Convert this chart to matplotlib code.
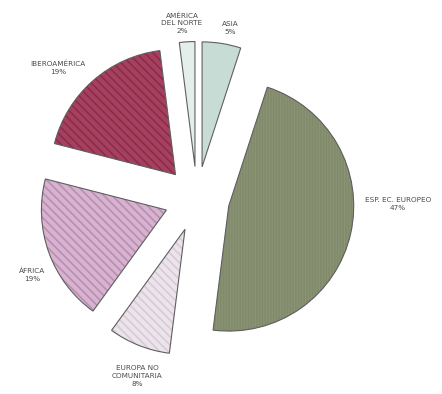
import numpy as np
import matplotlib
matplotlib.use("Agg")
import matplotlib.pyplot as plt

# Share by region of origin (%), clockwise from 12 o'clock
regions = ["ASIA", "ESP. EC. EUROPEO", "EUROPA NO\nCOMUNITARIA", "ÁFRICA",
           "IBEROAMÉRICA", "AMÉRICA\nDEL NORTE"]
shares = [5, 47, 8, 19, 19, 2]

fills = ["#c8dcd6", "#8b9475", "#ebe4ea", "#d6b3ce", "#a6405f", "#e4eeeb"]
stripes = ["#bdd2cc", "#818b6c", "#d8cad8", "#bb8db3", "#8c2c4d", "#d8e4e1"]
hatches = ["", "||||||", "\\\\\\\\", "\\\\\\\\", "\\\\\\\\", ""]

# label anchor points in pixels (x from left, y from top)
label_px = [(230, 28), (398, 204), (137, 376), (32, 275), (58, 68), (182, 23)]

W, H = 442, 394
cx, cy, R = 197, 199, 125   # pie centre and radius in pixels

fig = plt.figure(figsize=(W / 100, H / 100), dpi=100)
ax = fig.add_axes([0, 0, 1, 1])

plt.rcParams["hatch.linewidth"] = 1.2

explode = [0.26] * len(shares)
wedges, _ = ax.pie(shares, explode=explode, startangle=90, counterclock=False,
                   colors=fills, radius=1.0, frame=True,
                   wedgeprops=dict(linewidth=0))
for w, h, s in zip(wedges, hatches, stripes):
    w.set_hatch(h)
    w.set_edgecolor(s)
    w.set_linewidth(0)

# outlines drawn on top of the striped fills
ax.pie(shares, explode=explode, startangle=90, counterclock=False,
       radius=1.0, frame=True,
       wedgeprops=dict(fill=False, edgecolor="#5f5f5f", linewidth=0.8))
ax.set_xlim(-cx / R, (W - cx) / R)
ax.set_ylim(-(H - cy) / R, cy / R)
ax.set_aspect("auto")
ax.axis("off")

for name, v, (px, py) in zip(regions, shares, label_px):
    ax.text((px - cx) / R, (cy - py) / R, f"{name}\n{v}%", ha="center", va="center",
            fontsize=5.2, color="#4a4a4a", linespacing=1.35,
            family=["Liberation Sans Narrow", "DejaVu Sans"])

fig.savefig("out.png", dpi=100, facecolor="white")
